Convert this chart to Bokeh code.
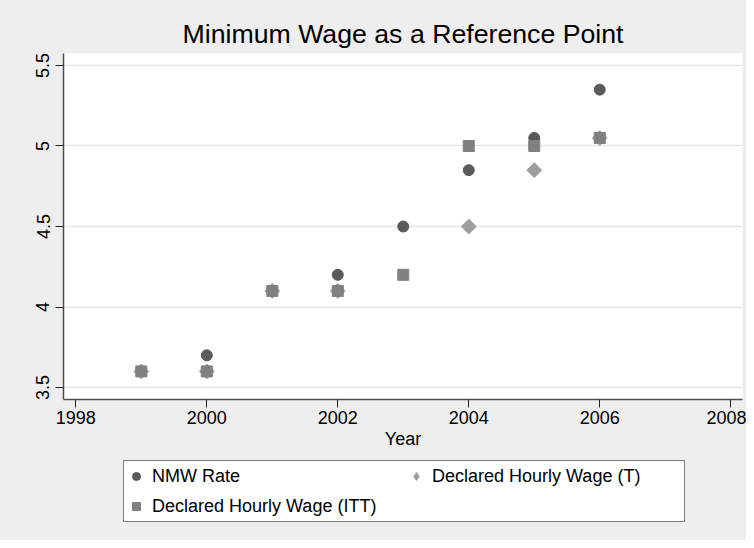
import math
from bokeh.plotting import figure
from bokeh.layouts import column
from bokeh.models import FixedTicker, Legend, LegendItem, Range1d
from bokeh.embed import file_html
from bokeh.resources import INLINE

years = [1999, 2000, 2001, 2002, 2003, 2004, 2005, 2006]
nmw_rate = [3.60, 3.70, 4.10, 4.20, 4.50, 4.85, 5.05, 5.35]
itt_wage = [3.60, 3.60, 4.10, 4.10, 4.20, 5.00, 5.00, 5.05]
t_years = [1999, 2000, 2001, 2002, 2004, 2005, 2006]
t_wage = [3.60, 3.60, 4.10, 4.10, 4.50, 4.85, 5.05]

x_ticks = [1998, 2000, 2002, 2004, 2006, 2008]
y_ticks = [3.5, 4, 4.5, 5, 5.5]
y_tick_labels = ["3.5", "4", "4.5", "5", "5.5"]

FONT = "Liberation Sans"
BG = "#eeeeee"
C_NMW, C_T, C_ITT = "#5a5a5a", "#9e9e9e", "#808080"

p = figure(frame_width=679, frame_height=346, output_backend="svg", toolbar_location=None,
           x_range=Range1d(1997.812, 2008.18), y_range=Range1d(3.4255, 5.5745),
           min_border_left=63, min_border_right=4, min_border_top=53,
           min_border_bottom=60, background_fill_color="white",
           border_fill_color=BG, outline_line_color=None)

p.title.text = "Minimum Wage as a Reference Point"
p.title.align = "center"
p.title.text_font = FONT
p.title.text_font_size = "26.7px"
p.title.text_font_style = "normal"
p.title.text_color = "black"

for ax in (p.xaxis, p.yaxis):
    ax.axis_line_color = "#4d4d4d"
    ax.axis_line_width = 1.5
    ax.major_tick_line_color = "#222222"
    ax.major_tick_line_width = 1
    ax.major_tick_out = 8
    ax.major_tick_in = 0
    ax.minor_tick_line_color = None
    ax.major_label_text_font = FONT
    ax.major_label_text_font_size = "18px"
    ax.major_label_text_color = "black"
    ax.major_label_standoff = 3

p.yaxis.major_label_standoff = 6
p.xaxis.ticker = FixedTicker(ticks=x_ticks)
p.yaxis.ticker = FixedTicker(ticks=y_ticks)
p.yaxis.major_label_overrides = {t: s for t, s in zip(y_ticks, y_tick_labels)}
p.yaxis.major_label_orientation = "vertical"
p.xaxis.axis_label = "Year"
p.xaxis.axis_label_text_font = FONT
p.xaxis.axis_label_text_font_size = "18px"
p.xaxis.axis_label_text_font_style = "normal"
p.xaxis.axis_label_text_color = "black"
p.xaxis.axis_label_standoff = 2

p.xgrid.grid_line_color = None
p.ygrid.grid_line_color = "#e6e6e6"
p.ygrid.grid_line_width = 1.3

p.scatter(years, nmw_rate, marker="circle", size=11, fill_color=C_NMW, line_color=C_NMW)
p.scatter(t_years, t_wage, marker="square", size=10.5, angle=math.pi / 4,
          fill_color=C_T, line_color=C_T)
p.scatter(years, itt_wage, marker="square", size=11, fill_color=C_ITT, line_color=C_ITT)

# legend strip below the plot: the same series, whose values fall outside this
# strip's (empty) range, so only their legend keys are drawn
lg = figure(frame_width=746, frame_height=81, output_backend="svg", toolbar_location=None,
            x_range=Range1d(1997.812, 2008.18), y_range=Range1d(0, 1),
            min_border_left=0, min_border_right=0, min_border_top=0, min_border_bottom=0,
            background_fill_color=BG, border_fill_color=BG, outline_line_color=None,
            x_axis_location=None, y_axis_location=None)
lg.grid.visible = False
k_nmw = lg.scatter(years, nmw_rate, marker="circle", fill_color=C_NMW, line_color=C_NMW)
k_t = lg.scatter(t_years, t_wage, marker="diamond", fill_color=C_T, line_color=C_T)
k_itt = lg.scatter(years, itt_wage, marker="square", fill_color=C_ITT, line_color=C_ITT)

legend = Legend(items=[
    LegendItem(label="NMW Rate", renderers=[k_nmw]),
    LegendItem(label="Declared Hourly Wage (T)", renderers=[k_t]),
    LegendItem(label="Declared Hourly Wage (ITT)", renderers=[k_itt]),
], location=(123, 18), orientation="horizontal", ncols=2,
    label_text_font=FONT, label_text_font_size="18px", label_text_color="black",
    background_fill_color="white", background_fill_alpha=1,
    border_line_color="black", border_line_width=1,
    padding=2, spacing=4, glyph_width=20, glyph_height=26, label_height=26,
    label_width=250, label_standoff=6, margin=0)
lg.add_layout(legend, "center")

layout = column(p, lg, spacing=0, styles={"background-color": BG})
open("out.html", "w").write(file_html(layout, INLINE))
